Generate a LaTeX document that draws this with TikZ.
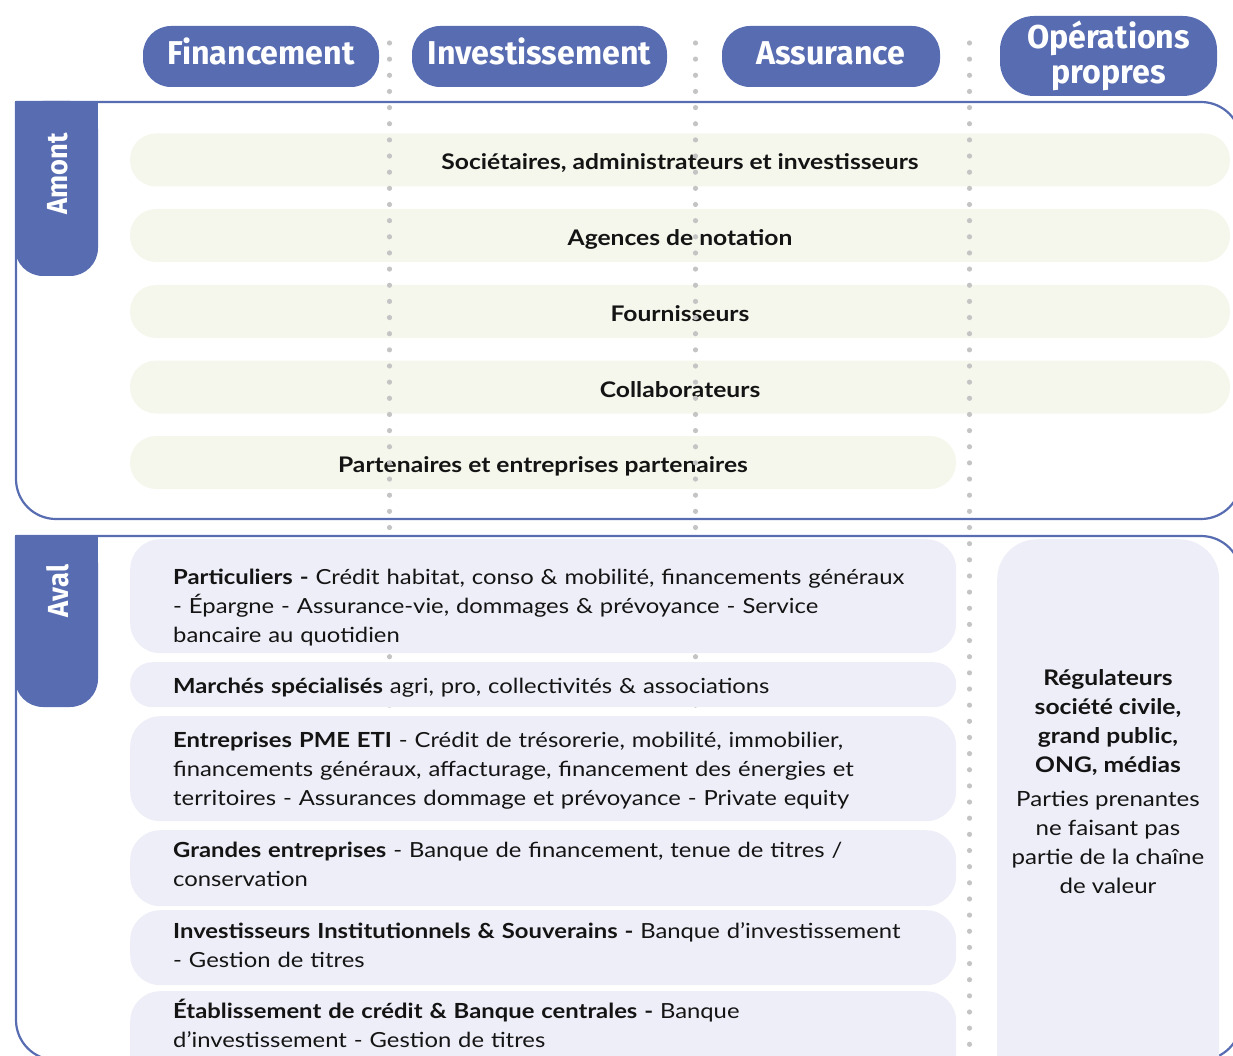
\documentclass[tikz,border=0pt]{standalone}
\usepackage{fontspec}
\setmainfont[FakeStretch=1.145]{Lato}
\newfontfamily\headfont[FakeStretch=0.975]{Fira Sans}
\newfontfamily\sidefont[FakeStretch=0.94]{Fira Sans}
\definecolor{blueT}{RGB}{88,108,178}
\definecolor{barG}{RGB}{245,247,236}
\definecolor{avalL}{RGB}{238,238,248}
\definecolor{dotc}{RGB}{196,196,196}
\definecolor{ink}{RGB}{20,20,20}
\tikzset{
  pill/.style={fill=blueT, text=white, inner sep=0pt, align=center,
    font=\headfont\bfseries\fontsize{33}{35}\selectfont},
  pillone/.style={pill, text height=16pt, text depth=0pt},
  frame/.style={draw=blueT, line width=2.2pt},
  sidetab/.style={fill=blueT},
  sidelabel/.style={text=white, rotate=90, inner sep=0pt,
    font=\sidefont\bfseries\fontsize{29}{30}\selectfont},
  bar/.style={fill=barG, inner sep=0pt, text=ink, text height=20pt, text depth=0pt,
    font=\bfseries\fontsize{21.5}{24}\selectfont},
  avalbox/.style={fill=avalL, inner sep=0pt, anchor=north west},
  avaltext/.style={anchor=base west, inner sep=0pt, text=ink, text width=790pt, align=left,
    font=\fontsize{20.8}{29.4}\selectfont},
  righttext/.style={anchor=base, inner sep=0pt, text=ink, align=center,
    font=\fontsize{21}{28.7}\selectfont},
}
\begin{document}
\begin{tikzpicture}[x=1pt,y=-1pt]
\useasboundingbox (0,0) rectangle (1233,1056);
\clip (0,0) rectangle (1233,1056);

% frames
\draw[frame, rounded corners=40pt] (16,102) -- (16,519) -- (1241,519) -- (1241,102) -- (16,102);
\draw[frame, rounded corners=40pt] (16,536) -- (16,1060) -- (1241,1060) -- (1241,536) -- (16,536);

% amont bars
\node[bar, minimum width=1100pt, minimum height=53pt, rounded corners=26pt] (b1) at (680,160) {Sociétaires, administrateurs et investisseurs};
\node[bar, minimum width=1100pt, minimum height=53pt, rounded corners=26pt] (b2) at (680,235.5) {Agences de notation};
\node[bar, minimum width=1100pt, minimum height=53pt, rounded corners=26pt] (b3) at (680,311.5) {Fournisseurs};
\node[bar, minimum width=1100pt, minimum height=53pt, rounded corners=26pt] (b4) at (680,387) {Collaborateurs};
\node[bar, minimum width=826pt, minimum height=53pt, rounded corners=26pt] (b5) at (543,462.5) {Partenaires et entreprises partenaires};

% dotted column separators
\foreach \x in {389.5,695.5,969.5}
  \foreach \i in {0,...,62}
    \fill[dotc] (\x,43+\i*16.15) circle (2.6pt);

% side tabs
\fill[sidetab, rounded corners=28pt] (15,101) rectangle (98,276);
\fill[sidetab] (15,101) rectangle (98,160);
\node[sidelabel] (amont) at (57.5,174) {Amont};
\fill[sidetab, rounded corners=28pt] (15,535) rectangle (98,707);
\fill[sidetab] (15,535) rectangle (98,600);
\node[sidelabel] (aval) at (57.5,591) {Aval};

% header pills
\node[pillone, minimum width=236pt, minimum height=61pt, rounded corners=28pt] (fin) at (261,56.5) {Financement};
\node[pillone, minimum width=255pt, minimum height=61pt, rounded corners=28pt] (inv) at (539.5,56.5) {Investissement};
\node[pillone, minimum width=218pt, minimum height=61pt, rounded corners=28pt] (ass) at (831,56.5) {Assurance};
\node[pill, minimum width=217pt, minimum height=80pt, rounded corners=34pt] (ops) at (1108.5,56) {Opérations\\propres};

% aval boxes
\node[avalbox, minimum width=826pt, minimum height=114pt, rounded corners=30pt] (p1) at (130,539) {};
\node[avalbox, minimum width=826pt, minimum height=45pt, rounded corners=22pt] (p2) at (130,662) {};
\node[avalbox, minimum width=826pt, minimum height=105pt, rounded corners=30pt] (p3) at (130,716) {};
\node[avalbox, minimum width=826pt, minimum height=76pt, rounded corners=30pt] (p4) at (130,830) {};
\node[avalbox, minimum width=826pt, minimum height=75pt, rounded corners=30pt] (p5) at (130,910) {};
\node[avalbox, minimum width=826pt, minimum height=120pt, rounded corners=30pt] (p6) at (130,991) {};
\node[avalbox, minimum width=222pt, minimum height=560pt, rounded corners=40pt] (reg) at (997,539) {};

\node[avaltext] (t1) at (173,584) {\textbf{Particuliers -} Crédit habitat, conso \& mobilité, financements généraux\\- Épargne - Assurance-vie, dommages \& prévoyance - Service\\bancaire au quotidien};
\node[avaltext] (t2) at (173,693) {\textbf{Marchés spécialisés} agri, pro, collectivités \& associations};
\node[avaltext] (t3) at (173,747) {\textbf{Entreprises PME ETI} - Crédit de trésorerie, mobilité, immobilier,\\financements généraux, affacturage, financement des énergies et\\territoires - Assurances dommage et prévoyance - Private equity};
\node[avaltext] (t4) at (173,857) {\textbf{Grandes entreprises} - Banque de financement, tenue de titres /\\conservation};
\node[avaltext] (t5) at (173,938) {\textbf{Investisseurs Institutionnels \& Souverains -} Banque d’investissement\\- Gestion de titres};
\node[avaltext] (t6) at (173,1018) {\textbf{Établissement de crédit \& Banque centrales -} Banque\\d’investissement - Gestion de titres};

\node[righttext, font=\bfseries\fontsize{21.5}{28.7}\selectfont] (r1) at (1108,772) {Régulateurs\\société civile,\\grand public,\\ONG, médias};
\node[righttext] (r2) at (1108,893) {Parties prenantes\\ne faisant pas\\partie de la chaîne\\de valeur};
\end{tikzpicture}
\end{document}
